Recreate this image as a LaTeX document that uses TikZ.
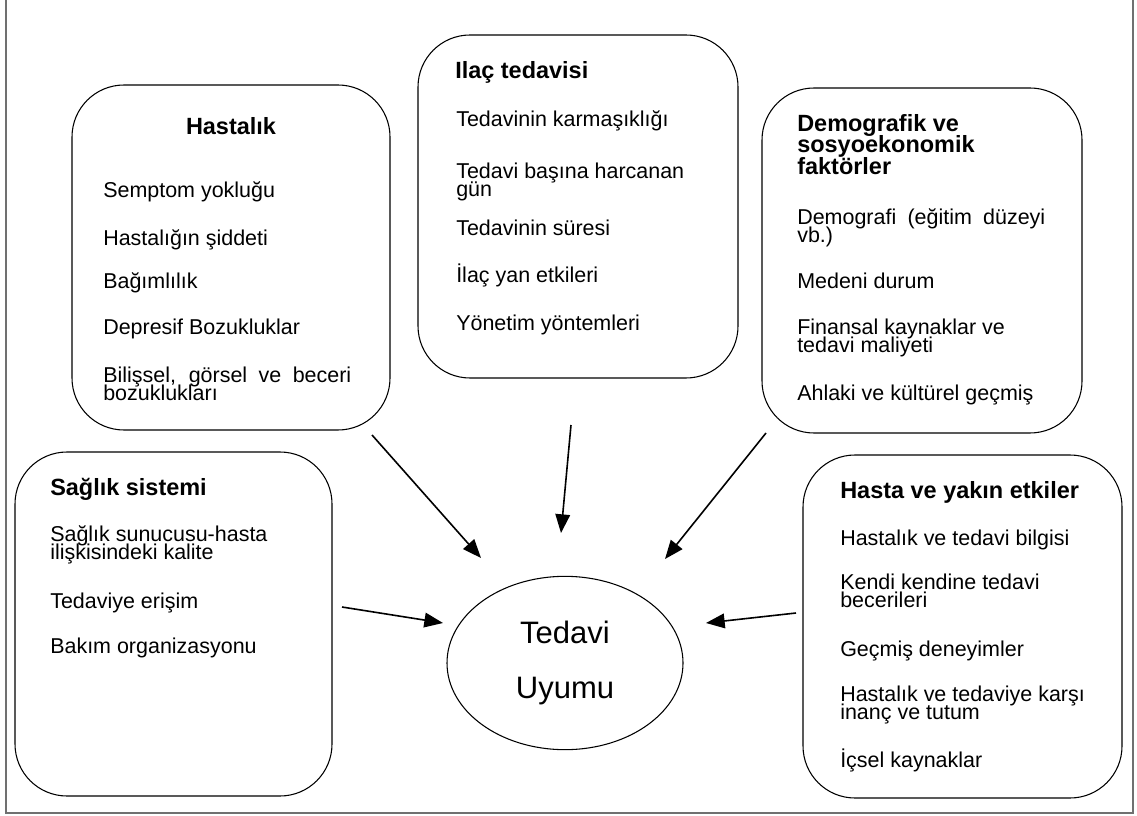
\documentclass[tikz,border=0pt]{standalone}
\usepackage{fontspec}
\setmainfont{Liberation Sans}
\usetikzlibrary{arrows.meta,shapes.geometric,fit}
\definecolor{framegray}{RGB}{112,112,112}

\begin{document}
\begin{tikzpicture}[x=0.75pt,y=-0.75pt,
  card/.style={draw=black, line width=0.8pt, rounded corners=39pt, inner sep=0pt},
  head/.style={font=\fontsize{17.6}{21}\selectfont\bfseries, inner sep=0pt, anchor=base west},
  item/.style={font=\fontsize{16.1}{19}\selectfont, inner sep=0pt, anchor=base west},
  flow/.style={-{Triangle[length=14pt,width=11pt]}, line width=1.2pt},
  frame/.style={draw=framegray, line width=1.5pt}
]
\useasboundingbox (0,0) rectangle (1137,816);

% outer frame (open at the top)
\draw[frame] (6,-10) -- (6,813) -- (1133,813) -- (1133,-10);

% ---- Hastalık
\node[card, fit={(72,85) (390,430)}] (hast) {};
\node[head, anchor=base] (hastT) at (231,135) {Hastalık};
\node[item] (h1) at (103,198) {Semptom yokluğu};
\node[item] (h2) at (103,246) {Hastalığın şiddeti};
\node[item] (h3) at (103,289) {Bağımlılık};
\node[item] (h4) at (103,334) {Depresif Bozukluklar};
\node[item] (h5) at (103,382) {\makebox[186pt][s]{Bilişsel, görsel ve beceri}};
\node[item] (h6) at (103,400) {bozuklukları};

% ---- Ilaç tedavisi
\node[card, fit={(418,35) (738,378)}] (ilac) {};
\node[head] (ilacT) at (455,79) {Ilaç tedavisi};
\node[item] (i1) at (456,127) {Tedavinin karmaşıklığı};
\node[item] (i2) at (456,179) {Tedavi başına harcanan};
\node[item] (i3) at (456,197) {gün};
\node[item] (i4) at (456,236) {Tedavinin süresi};
\node[item] (i5) at (456,283) {İlaç yan etkileri};
\node[item] (i6) at (456,330) {Yönetim yöntemleri};

% ---- Demografik ve sosyoekonomik faktörler
\node[card, fit={(762,88) (1082,433)}] (demo) {};
\node[head] (demoT1) at (797,132) {Demografik ve};
\node[head] (demoT2) at (797,153) {sosyoekonomik};
\node[head] (demoT3) at (797,175) {faktörler};
\node[item] (d1) at (797,225) {\makebox[186pt][s]{Demografi (eğitim düzeyi}};
\node[item] (d2) at (797,243) {vb.)};
\node[item] (d3) at (797,288) {Medeni durum};
\node[item] (d4) at (797,334) {Finansal kaynaklar ve};
\node[item] (d5) at (797,352) {tedavi maliyeti};
\node[item] (d6) at (797,400) {Ahlaki ve kültürel geçmiş};

% ---- Sağlık sistemi
\node[card, fit={(15,452) (332,796)}] (sag) {};
\node[head] (sagT) at (50,495) {Sağlık sistemi};
\node[item] (s1) at (50,541) {Sağlık sunucusu-hasta};
\node[item] (s2) at (50,559) {ilişkisindeki kalite};
\node[item] (s3) at (50,608) {Tedaviye erişim};
\node[item] (s4) at (50,653) {Bakım organizasyonu};

% ---- Hasta ve yakın etkiler
\node[card, fit={(803,455) (1122,798)}] (hasta) {};
\node[head] (hastaT) at (840,498) {Hasta ve yakın etkiler};
\node[item] (p1) at (840,545) {Hastalık ve tedavi bilgisi};
\node[item] (p2) at (840,589) {Kendi kendine tedavi};
\node[item] (p3) at (840,607) {becerileri};
\node[item] (p4) at (840,656) {Geçmiş deneyimler};
\node[item] (p5) at (840,701) {Hastalık ve tedaviye karşı};
\node[item] (p6) at (840,719) {inanç ve tutum};
\node[item] (p7) at (840,767) {İçsel kaynaklar};

% ---- centre: Tedavi Uyumu
\node[ellipse, draw, line width=0.8pt, minimum width=177pt, minimum height=130pt,
      align=center, inner sep=0pt, font=\fontsize{23.25}{41.25}\selectfont]
      (uyum) at (565,663) {Tedavi\\Uyumu};

% ---- arrows towards the centre
\coordinate (a1s) at (372,435); \coordinate (a1e) at (481,558);
\coordinate (a2s) at (571,425); \coordinate (a2e) at (561,533);
\coordinate (a3s) at (766,433); \coordinate (a3e) at (665,559);
\coordinate (a4s) at (342,607); \coordinate (a4e) at (443,623);
\coordinate (a5s) at (796,613); \coordinate (a5e) at (706,623);
\draw[flow] (a1s) -- (a1e);
\draw[flow] (a2s) -- (a2e);
\draw[flow] (a3s) -- (a3e);
\draw[flow] (a4s) -- (a4e);
\draw[flow] (a5s) -- (a5e);
\end{tikzpicture}
\end{document}
